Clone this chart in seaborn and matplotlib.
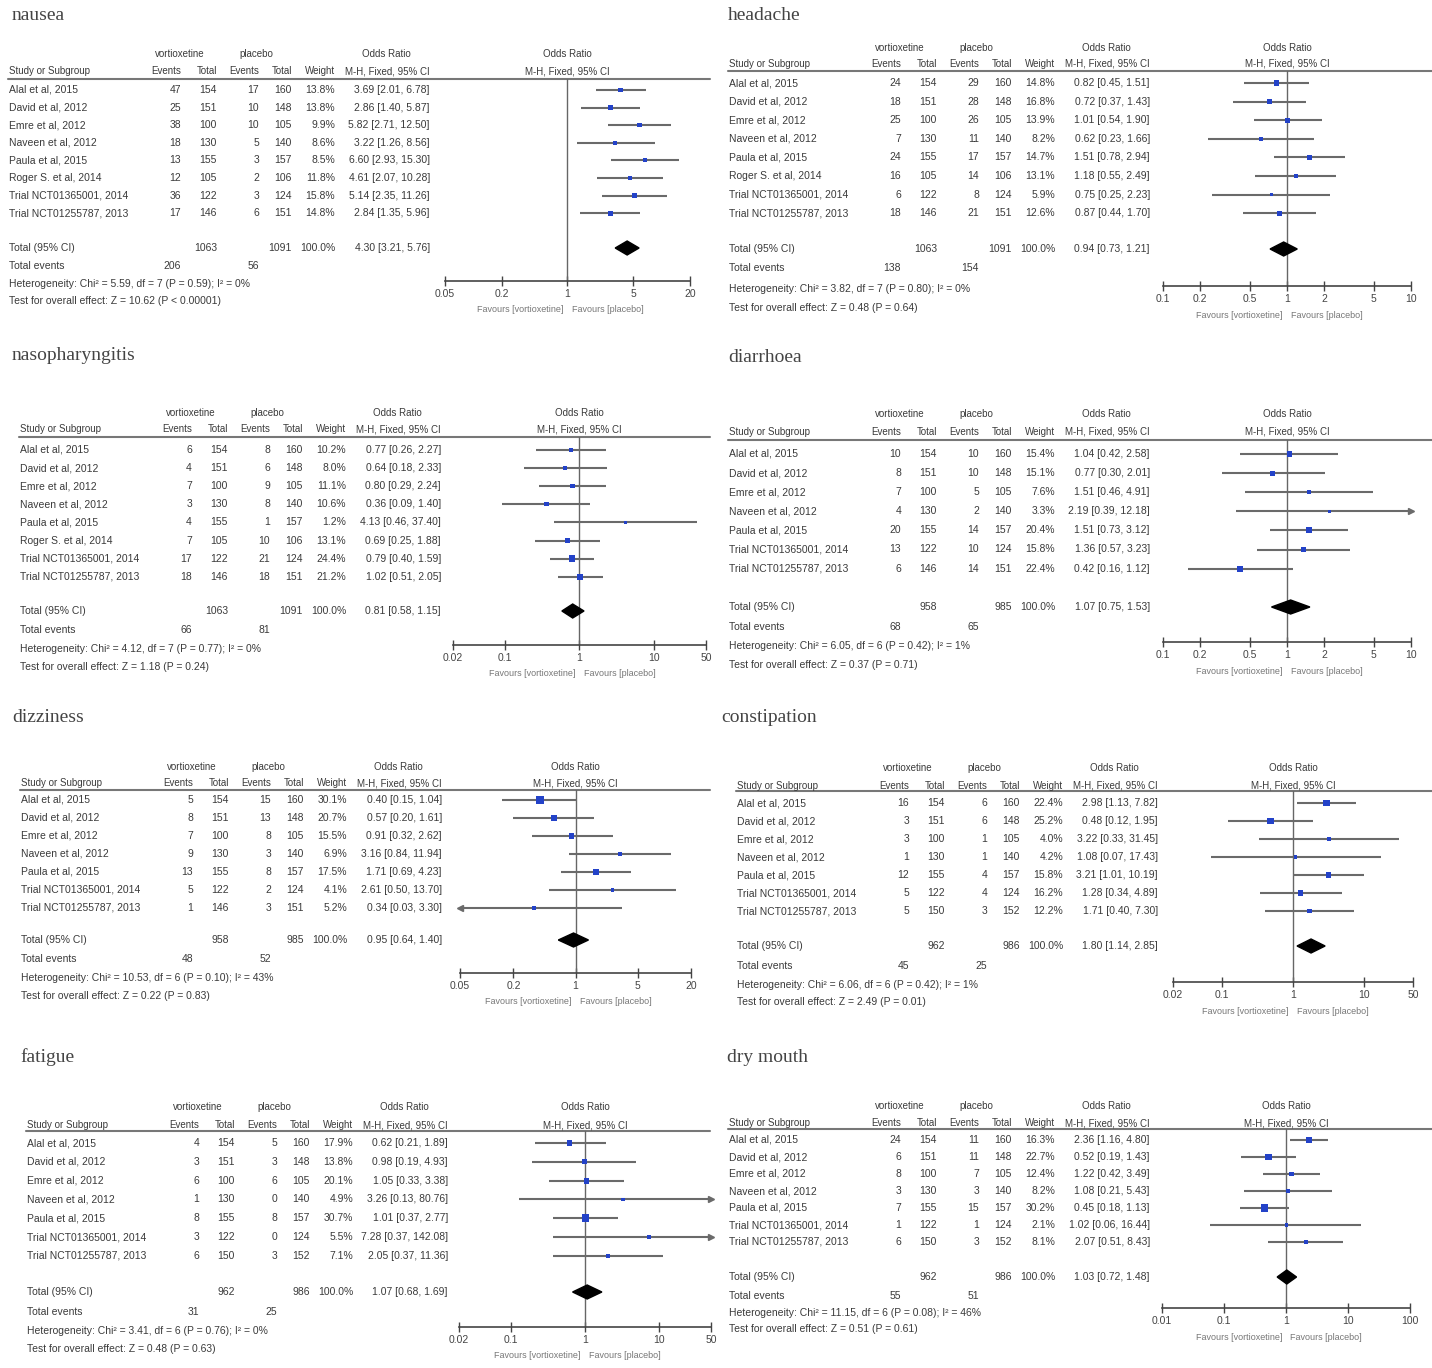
import numpy as np
import pandas as pd
import seaborn as sns
import matplotlib.pyplot as plt
from matplotlib.ticker import NullLocator

# ---- study names ----
STUDIES_8 = ["Alal et al, 2015", "David et al, 2012", "Emre et al, 2012", "Naveen et al, 2012",
             "Paula et al, 2015", "Roger S. et al, 2014", "Trial NCT01365001, 2014",
             "Trial NCT01255787, 2013"]
STUDIES_7 = [s for s in STUDIES_8 if not s.startswith("Roger")]

# group sizes per study
TOT_V_8 = [154, 151, 100, 130, 155, 105, 122, 146]
TOT_P_8 = [160, 148, 105, 140, 157, 106, 124, 151]
TOT_V_7 = [154, 151, 100, 130, 155, 122, 146]
TOT_P_7 = [160, 148, 105, 140, 157, 124, 151]
TOT_V_7B = [154, 151, 100, 130, 155, 122, 150]
TOT_P_7B = [160, 148, 105, 140, 157, 124, 152]

# ---- nausea ----
nausea_ev_v = [47, 25, 38, 18, 13, 12, 36, 17]
nausea_ev_p = [17, 10, 10, 5, 3, 2, 3, 6]
nausea_wt = [13.8, 13.8, 9.9, 8.6, 8.5, 11.8, 15.8, 14.8]
nausea_or = [3.69, 2.86, 5.82, 3.22, 6.60, 4.61, 5.14, 2.84]
nausea_lo = [2.01, 1.40, 2.71, 1.26, 2.93, 2.07, 2.35, 1.35]
nausea_hi = [6.78, 5.87, 12.50, 8.56, 15.30, 10.28, 11.26, 5.96]
nausea_pool = [4.30, 3.21, 5.76]
nausea_het = [5.59, 7, 0.59, 0]
nausea_z = [10.62, "< 0.00001"]

# ---- headache ----
headache_ev_v = [24, 18, 25, 7, 24, 16, 6, 18]
headache_ev_p = [29, 28, 26, 11, 17, 14, 8, 21]
headache_wt = [14.8, 16.8, 13.9, 8.2, 14.7, 13.1, 5.9, 12.6]
headache_or = [0.82, 0.72, 1.01, 0.62, 1.51, 1.18, 0.75, 0.87]
headache_lo = [0.45, 0.37, 0.54, 0.23, 0.78, 0.55, 0.25, 0.44]
headache_hi = [1.51, 1.43, 1.90, 1.66, 2.94, 2.49, 2.23, 1.70]
headache_pool = [0.94, 0.73, 1.21]
headache_het = [3.82, 7, 0.80, 0]
headache_z = [0.48, "= 0.64"]

# ---- nasopharyngitis ----
naso_ev_v = [6, 4, 7, 3, 4, 7, 17, 18]
naso_ev_p = [8, 6, 9, 8, 1, 10, 21, 18]
naso_wt = [10.2, 8.0, 11.1, 10.6, 1.2, 13.1, 24.4, 21.2]
naso_or = [0.77, 0.64, 0.80, 0.36, 4.13, 0.69, 0.79, 1.02]
naso_lo = [0.26, 0.18, 0.29, 0.09, 0.46, 0.25, 0.40, 0.51]
naso_hi = [2.27, 2.33, 2.24, 1.40, 37.40, 1.88, 1.59, 2.05]
naso_pool = [0.81, 0.58, 1.15]
naso_het = [4.12, 7, 0.77, 0]
naso_z = [1.18, "= 0.24"]

# ---- diarrhoea ----
diarr_ev_v = [10, 8, 7, 4, 20, 13, 6]
diarr_ev_p = [10, 10, 5, 2, 14, 10, 14]
diarr_wt = [15.4, 15.1, 7.6, 3.3, 20.4, 15.8, 22.4]
diarr_or = [1.04, 0.77, 1.51, 2.19, 1.51, 1.36, 0.42]
diarr_lo = [0.42, 0.30, 0.46, 0.39, 0.73, 0.57, 0.16]
diarr_hi = [2.58, 2.01, 4.91, 12.18, 3.12, 3.23, 1.12]
diarr_pool = [1.07, 0.75, 1.53]
diarr_het = [6.05, 6, 0.42, 1]
diarr_z = [0.37, "= 0.71"]

# ---- dizziness ----
dizzy_ev_v = [5, 8, 7, 9, 13, 5, 1]
dizzy_ev_p = [15, 13, 8, 3, 8, 2, 3]
dizzy_wt = [30.1, 20.7, 15.5, 6.9, 17.5, 4.1, 5.2]
dizzy_or = [0.40, 0.57, 0.91, 3.16, 1.71, 2.61, 0.34]
dizzy_lo = [0.15, 0.20, 0.32, 0.84, 0.69, 0.50, 0.03]
dizzy_hi = [1.04, 1.61, 2.62, 11.94, 4.23, 13.70, 3.30]
dizzy_pool = [0.95, 0.64, 1.40]
dizzy_het = [10.53, 6, 0.10, 43]
dizzy_z = [0.22, "= 0.83"]

# ---- constipation ----
const_ev_v = [16, 3, 3, 1, 12, 5, 5]
const_ev_p = [6, 6, 1, 1, 4, 4, 3]
const_wt = [22.4, 25.2, 4.0, 4.2, 15.8, 16.2, 12.2]
const_or = [2.98, 0.48, 3.22, 1.08, 3.21, 1.28, 1.71]
const_lo = [1.13, 0.12, 0.33, 0.07, 1.01, 0.34, 0.40]
const_hi = [7.82, 1.95, 31.45, 17.43, 10.19, 4.89, 7.30]
const_pool = [1.80, 1.14, 2.85]
const_het = [6.06, 6, 0.42, 1]
const_z = [2.49, "= 0.01"]

# ---- fatigue ----
fatigue_ev_v = [4, 3, 6, 1, 8, 3, 6]
fatigue_ev_p = [5, 3, 6, 0, 8, 0, 3]
fatigue_wt = [17.9, 13.8, 20.1, 4.9, 30.7, 5.5, 7.1]
fatigue_or = [0.62, 0.98, 1.05, 3.26, 1.01, 7.28, 2.05]
fatigue_lo = [0.21, 0.19, 0.33, 0.13, 0.37, 0.37, 0.37]
fatigue_hi = [1.89, 4.93, 3.38, 80.76, 2.77, 142.08, 11.36]
fatigue_pool = [1.07, 0.68, 1.69]
fatigue_het = [3.41, 6, 0.76, 0]
fatigue_z = [0.48, "= 0.63"]

# ---- dry mouth ----
dry_ev_v = [24, 6, 8, 3, 7, 1, 6]
dry_ev_p = [11, 11, 7, 3, 15, 1, 3]
dry_wt = [16.3, 22.7, 12.4, 8.2, 30.2, 2.1, 8.1]
dry_or = [2.36, 0.52, 1.22, 1.08, 0.45, 1.02, 2.07]
dry_lo = [1.16, 0.19, 0.42, 0.21, 0.18, 0.06, 0.51]
dry_hi = [4.80, 1.43, 3.49, 5.43, 1.13, 16.44, 8.43]
dry_pool = [1.03, 0.72, 1.48]
dry_het = [11.15, 6, 0.08, 46]
dry_z = [0.51, "= 0.61"]

TICKS_A = [0.05, 0.2, 1, 5, 20]
TICKS_B = [0.1, 0.2, 0.5, 1, 2, 5, 10]
TICKS_C = [0.02, 0.1, 1, 10, 50]
TICKS_D = [0.01, 0.1, 1, 10, 100]

panels = [
    dict(name="nausea", studies=STUDIES_8, tv=TOT_V_8, tp=TOT_P_8, ev=nausea_ev_v, ep=nausea_ev_p,
         wt=nausea_wt, orr=nausea_or, lo=nausea_lo, hi=nausea_hi, pool=nausea_pool,
         het=nausea_het, z=nausea_z, ticks=TICKS_A),
    dict(name="headache", studies=STUDIES_8, tv=TOT_V_8, tp=TOT_P_8, ev=headache_ev_v, ep=headache_ev_p,
         wt=headache_wt, orr=headache_or, lo=headache_lo, hi=headache_hi, pool=headache_pool,
         het=headache_het, z=headache_z, ticks=TICKS_B),
    dict(name="nasopharyngitis", studies=STUDIES_8, tv=TOT_V_8, tp=TOT_P_8, ev=naso_ev_v, ep=naso_ev_p,
         wt=naso_wt, orr=naso_or, lo=naso_lo, hi=naso_hi, pool=naso_pool,
         het=naso_het, z=naso_z, ticks=TICKS_C),
    dict(name="diarrhoea", studies=STUDIES_7, tv=TOT_V_7, tp=TOT_P_7, ev=diarr_ev_v, ep=diarr_ev_p,
         wt=diarr_wt, orr=diarr_or, lo=diarr_lo, hi=diarr_hi, pool=diarr_pool,
         het=diarr_het, z=diarr_z, ticks=TICKS_B),
    dict(name="dizziness", studies=STUDIES_7, tv=TOT_V_7, tp=TOT_P_7, ev=dizzy_ev_v, ep=dizzy_ev_p,
         wt=dizzy_wt, orr=dizzy_or, lo=dizzy_lo, hi=dizzy_hi, pool=dizzy_pool,
         het=dizzy_het, z=dizzy_z, ticks=TICKS_A),
    dict(name="constipation", studies=STUDIES_7, tv=TOT_V_7B, tp=TOT_P_7B, ev=const_ev_v, ep=const_ev_p,
         wt=const_wt, orr=const_or, lo=const_lo, hi=const_hi, pool=const_pool,
         het=const_het, z=const_z, ticks=TICKS_C),
    dict(name="fatigue", studies=STUDIES_7, tv=TOT_V_7B, tp=TOT_P_7B, ev=fatigue_ev_v, ep=fatigue_ev_p,
         wt=fatigue_wt, orr=fatigue_or, lo=fatigue_lo, hi=fatigue_hi, pool=fatigue_pool,
         het=fatigue_het, z=fatigue_z, ticks=TICKS_C),
    dict(name="dry mouth", studies=STUDIES_7, tv=TOT_V_7B, tp=TOT_P_7B, ev=dry_ev_v, ep=dry_ev_p,
         wt=dry_wt, orr=dry_or, lo=dry_lo, hi=dry_hi, pool=dry_pool,
         het=dry_het, z=dry_z, ticks=TICKS_D),
]

# layout in pixels: panel x, table shift, title pos, header rows, rule, first row, row step,
# total / events / stats rows, axis line y and forest axis span
layouts = [
    dict(x0=0, dx=0, tx=12, ty=15, h1=54, h2=71, rule=79, r1=90, step=17.6,
         tot=248, evt=266, het=284, test=301, axy=281, a0=445, a1=690),
    dict(x0=720, dx=0, tx=728, ty=15, h1=48, h2=64, rule=71, r1=83, step=18.6,
         tot=249, evt=268, het=289, test=308, axy=286, a0=1163, a1=1411),
    dict(x0=0, dx=11, tx=12, ty=356, h1=413, h2=429, rule=437, r1=450, step=18.1,
         tot=611, evt=630, het=649, test=667, axy=645, a0=453, a1=706),
    dict(x0=720, dx=0, tx=728, ty=357, h1=414, h2=432, rule=440, r1=454, step=19.1,
         tot=607, evt=627, het=646, test=665, axy=642, a0=1163, a1=1411),
    dict(x0=0, dx=12, tx=12, ty=717, h1=767, h2=783, rule=790, r1=800, step=18.0,
         tot=940, evt=959, het=978, test=996, axy=973, a0=460, a1=691),
    dict(x0=720, dx=8, tx=721, ty=717, h1=768, h2=786, rule=791, r1=803, step=18.0,
         tot=946, evt=966, het=985, test=1002, axy=982, a0=1173, a1=1413),
    dict(x0=0, dx=18, tx=20, ty=1057, h1=1107, h2=1125, rule=1131, r1=1143, step=18.8,
         tot=1292, evt=1312, het=1331, test=1349, axy=1327, a0=459, a1=711),
    dict(x0=720, dx=0, tx=727, ty=1057, h1=1106, h2=1123, rule=1129, r1=1140, step=17.0,
         tot=1277, evt=1296, het=1313, test=1329, axy=1308, a0=1162, a1=1410),
]

W, H = 1432, 1368
TXT = "#3a3a3a"
GREY = "#6a6a6a"
BLUE = "#2342c8"
FS = 7.5

sns.set_theme(style="white")
plt.rcParams["font.family"] = ["Liberation Sans", "DejaVu Sans"]

fig = plt.figure(figsize=(W / 100, H / 100), dpi=100)
bg = fig.add_axes([0, 0, 1, 1])
bg.set_xlim(0, W)
bg.set_ylim(H, 0)
bg.axis("off")


def txt(x, y, s, ha="right", size=FS, color=TXT, **kw):
    bg.text(x, y, s, ha=ha, va="center", fontsize=size, color=color, **kw)


def fmt_or(o, l, h):
    return f"{o:.2f} [{l:.2f}, {h:.2f}]"


for p, L in zip(panels, layouts):
    cx = L["x0"] + L["dx"]
    right_edge = 710 if L["x0"] == 0 else W
    n = len(p["studies"])
    ys = L["r1"] + np.arange(n) * L["step"]
    xmid = (L["a0"] + L["a1"]) / 2

    # title
    bg.text(L["tx"], L["ty"], p["name"], ha="left", va="center", fontsize=14,
            family=["Liberation Serif", "DejaVu Serif"], color="#444444")

    # column headers
    txt(cx + 180, L["h1"], "vortioxetine", ha="center", size=7)
    txt(cx + 256, L["h1"], "placebo", ha="center", size=7)
    txt(cx + 386, L["h1"], "Odds Ratio", ha="center", size=7)
    txt(xmid, L["h1"], "Odds Ratio", ha="center", size=7)
    txt(cx + 9, L["h2"], "Study or Subgroup", ha="left", size=7)
    for lab, xr in [("Events", 181), ("Total", 217), ("Events", 259), ("Total", 292),
                    ("Weight", 335), ("M-H, Fixed, 95% CI", 430)]:
        txt(cx + xr, L["h2"], lab, size=7)
    txt(xmid, L["h2"], "M-H, Fixed, 95% CI", ha="center", size=7)
    bg.plot([cx + 8, right_edge], [L["rule"], L["rule"]], color="#777777", lw=1.5)

    # study rows
    for i in range(n):
        y = ys[i]
        txt(cx + 9, y, p["studies"][i], ha="left")
        txt(cx + 181, y, str(p["ev"][i]))
        txt(cx + 217, y, str(p["tv"][i]))
        txt(cx + 259, y, str(p["ep"][i]))
        txt(cx + 292, y, str(p["tp"][i]))
        txt(cx + 335, y, f"{p['wt'][i]:.1f}%")
        txt(cx + 430, y, fmt_or(p["orr"][i], p["lo"][i], p["hi"][i]))

    # totals
    txt(cx + 9, L["tot"], "Total (95% CI)", ha="left")
    txt(cx + 217, L["tot"], str(sum(p["tv"])))
    txt(cx + 292, L["tot"], str(sum(p["tp"])))
    txt(cx + 335, L["tot"], "100.0%")
    txt(cx + 430, L["tot"], fmt_or(*p["pool"]))
    txt(cx + 9, L["evt"], "Total events", ha="left")
    txt(cx + 181, L["evt"], str(sum(p["ev"])))
    txt(cx + 259, L["evt"], str(sum(p["ep"])))
    chi, df_, ph, i2 = p["het"]
    txt(cx + 9, L["het"], f"Heterogeneity: Chi\u00b2 = {chi:.2f}, df = {df_} (P = {ph:.2f}); I\u00b2 = {i2}%",
        ha="left")
    txt(cx + 9, L["test"], f"Test for overall effect: Z = {p['z'][0]:.2f} (P {p['z'][1]})", ha="left")

    # forest plot axes
    ticks = p["ticks"]
    xmin, xmax = ticks[0], ticks[-1]
    ax = fig.add_axes([L["a0"] / W, 1 - L["axy"] / H, (L["a1"] - L["a0"]) / W,
                       (L["axy"] - L["rule"]) / H])
    ax.set_facecolor("none")
    ax.set_xscale("log")

    lo = np.array(p["lo"])
    hi = np.array(p["hi"])
    orr = np.array(p["orr"])
    lo_c = np.clip(lo, xmin, xmax)
    hi_c = np.clip(hi, xmin, xmax)
    ax.hlines(ys, lo_c, hi_c, color=GREY, lw=1.5, zorder=2)
    for y, l, h in zip(ys, lo, hi):
        if h > xmax:
            ax.plot(xmax, y, marker=">", ms=4, color=GREY, clip_on=False, zorder=2)
        if l < xmin:
            ax.plot(xmin, y, marker="<", ms=4, color=GREY, clip_on=False, zorder=2)

    df = pd.DataFrame({"or": orr, "y": ys, "side": 2.0 + 0.11 * np.array(p["wt"])})
    df = df[(df["or"] > xmin) & (df["or"] < xmax)]
    sns.scatterplot(data=df, x="or", y="y", s=df["side"] ** 2, marker="s", color=BLUE,
                    edgecolor="none", linewidth=0, legend=False, ax=ax, zorder=3)

    po, pl, ph_ = p["pool"]
    ax.fill([pl, po, ph_, po], [L["tot"], L["tot"] - 7, L["tot"], L["tot"] + 7],
            color="black", zorder=3)
    ax.axvline(1, color="#666666", lw=1.0, zorder=1)

    ax.set_xlim(xmin, xmax)
    ax.set_ylim(L["axy"], L["rule"])
    ax.set_xlabel("")
    ax.set_ylabel("")
    ax.set_yticks([])
    ax.set_xticks(ticks)
    ax.set_xticklabels([f"{t:g}" for t in ticks])
    ax.xaxis.set_minor_locator(NullLocator())
    ax.tick_params(axis="x", direction="inout", length=7, width=1, labelsize=FS,
                   colors="#444444", pad=2, bottom=True)
    for side in ["top", "left", "right"]:
        ax.spines[side].set_visible(False)
    ax.spines["bottom"].set_color("#444444")
    ax.spines["bottom"].set_linewidth(1.2)

    txt(xmid - 4, L["axy"] + 29, "Favours [vortioxetine]", ha="right", size=6.5, color="#777777")
    txt(xmid + 4, L["axy"] + 29, "Favours [placebo]", ha="left", size=6.5, color="#777777")

fig.savefig("out.png", dpi=100)
